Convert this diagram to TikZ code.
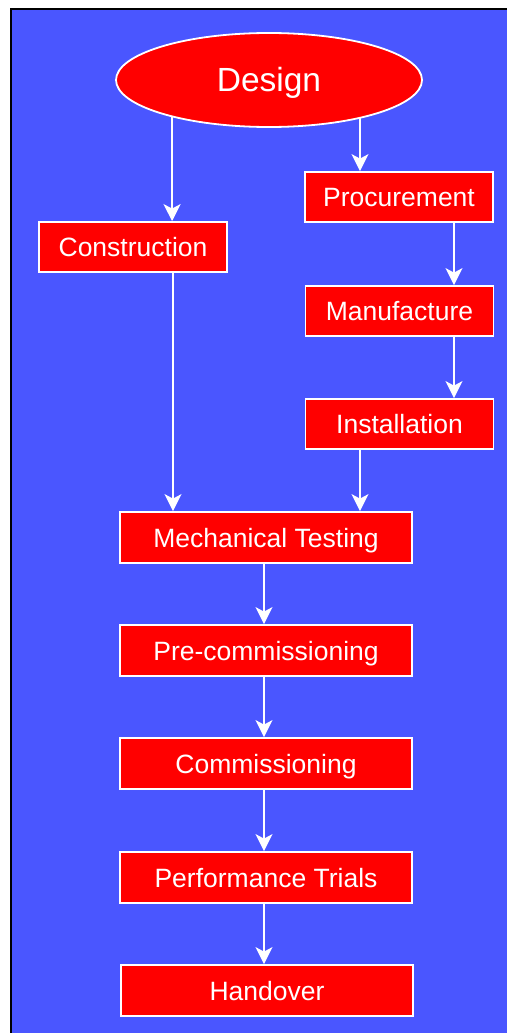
\documentclass[tikz,border=0pt]{standalone}
\usepackage{fontspec}
\setmainfont{Liberation Sans}
\usetikzlibrary{arrows.meta,shapes.geometric}
\definecolor{bgblue}{RGB}{74,86,255}
\definecolor{boxred}{RGB}{255,0,0}
\begin{document}
\begin{tikzpicture}[x=1pt,y=-1pt,
  box/.style={rectangle,fill=boxred,draw=white,line width=1.8pt,text=white,
    font=\fontsize{26.5}{30}\selectfont,inner sep=0pt,text height=19pt,text depth=0pt},
  arr/.style={draw=white,line width=2pt,-{Stealth[length=17pt,width=17pt,inset=4.5pt]}}]
\useasboundingbox (0,0) rectangle (507,1033);
\fill[bgblue] (11,9) rectangle (507,1033);
\draw[black,line width=1.6pt] (11,1033) -- (11,9) -- (507,9);
\node[ellipse,fill=boxred,draw=white,line width=1.8pt,text=white,
  minimum width=306pt,minimum height=94pt,inner sep=0pt,text height=24pt,text depth=0pt,
  font=\fontsize{33.5}{38}\selectfont] (design) at (269,80) {Design};
\node[box,minimum width=188pt,minimum height=50pt] (cons) at (133,247) {Construction};
\node[box,minimum width=188pt,minimum height=50pt] (proc) at (399,197) {Procurement};
\node[box,minimum width=188pt,minimum height=50pt] (manu) at (399.5,311) {Manufacture};
\node[box,minimum width=188pt,minimum height=50pt] (inst) at (399.5,424) {Installation};
\node[box,minimum width=292pt,minimum height=51pt] (mech) at (266,537.5) {Mechanical Testing};
\node[box,minimum width=292pt,minimum height=51pt] (prec) at (266,650.5) {Pre-commissioning};
\node[box,minimum width=292pt,minimum height=51pt] (comm) at (266,763.5) {Commissioning};
\node[box,minimum width=292pt,minimum height=51pt] (perf) at (266,877.5) {Performance Trials};
\node[box,minimum width=292pt,minimum height=51pt] (hand) at (267,990.5) {Handover};
\coordinate (L) at (173,0);
\coordinate (R) at (360,0);
\coordinate (RR) at (454,0);
\coordinate (C) at (264,0);
\draw[arr] (design.201) -- (design.201 |- cons.north);
\draw[arr] (design.338 -| R) -- (proc.north -| R);
\draw[arr] (cons.south -| L) -- (mech.north -| L);
\draw[arr] (proc.south -| RR) -- (manu.north -| RR);
\draw[arr] (manu.south -| RR) -- (inst.north -| RR);
\draw[arr] (inst.south -| R) -- (mech.north -| R);
\draw[arr] (mech.south -| C) -- (prec.north -| C);
\draw[arr] (prec.south -| C) -- (comm.north -| C);
\draw[arr] (comm.south -| C) -- (perf.north -| C);
\draw[arr] (perf.south -| C) -- (hand.north -| C);
\end{tikzpicture}
\end{document}
